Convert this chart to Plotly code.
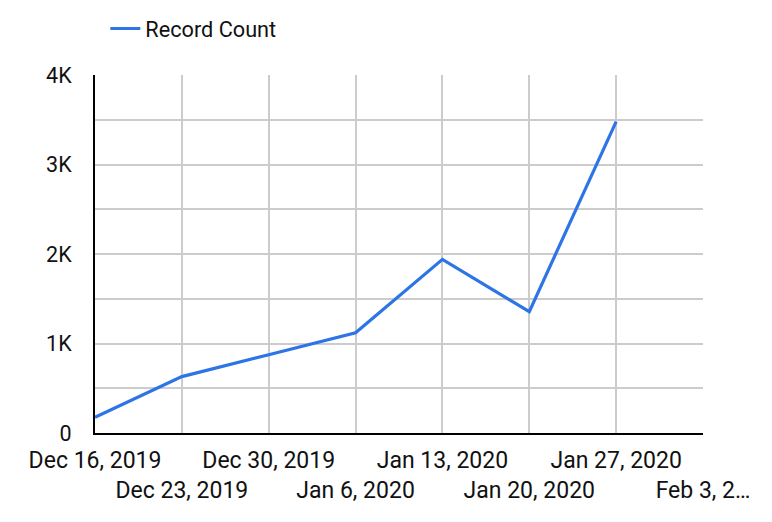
import plotly.graph_objects as go

categories = ["Dec 16, 2019", "Dec 23, 2019", "Dec 30, 2019", "Jan 6, 2020",
              "Jan 13, 2020", "Jan 20, 2020", "Jan 27, 2020", "Feb 3, 2…"]
record_count = [175, 630, 875, 1120, 1940, 1355, 3480]
y_tickvals = [0, 1000, 2000, 3000, 4000]
y_ticktext = ["0", "1K", "2K", "3K", "4K"]

xpos = list(range(len(categories)))
ticktext = [c if i % 2 == 0 else "<br>" + c for i, c in enumerate(categories)]

FONT = "Roboto"
GRID = "#cccccc"
fig = go.Figure()
fig.add_trace(go.Scatter(
    x=xpos[:len(record_count)], y=record_count, mode="lines",
    name="Record Count", line=dict(color="#2d74e6", width=3.2),
    hoverinfo="skip",
))

fig.update_layout(
    width=772, height=522,
    margin=dict(l=87, r=77, t=67, b=97, pad=0),
    plot_bgcolor="white", paper_bgcolor="white",
    font=dict(family=FONT, size=21, color="#111111"),
    showlegend=True,
    legend=dict(orientation="h", x=0.017, xanchor="left", y=0.96, yanchor="middle",
                yref="container", font=dict(size=21.7, family=FONT),
                bgcolor="rgba(0,0,0,0)"),
    xaxis=dict(
        range=[0, 7], tickmode="array", tickvals=xpos, ticktext=ticktext,
        tickangle=0, automargin=False, ticklabelstandoff=5,
        showgrid=True, gridcolor=GRID, gridwidth=1.5,
        showline=True, linecolor="black", linewidth=2,
        ticks="", zeroline=False, tickfont=dict(size=23, family=FONT),
        fixedrange=True,
    ),
    yaxis=dict(
        range=[0, 4000], tickmode="array", tickvals=y_tickvals, ticktext=y_ticktext,
        automargin=False,
        showgrid=True, gridcolor=GRID, gridwidth=1.5,
        minor=dict(dtick=500, showgrid=True, gridcolor=GRID, gridwidth=1.5),
        showline=True, linecolor="black", linewidth=2,
        ticks="", ticklabelstandoff=17, zeroline=False,
        tickfont=dict(size=21.5, family=FONT), fixedrange=True,
    ),
)

fig.write_html("out.html")
